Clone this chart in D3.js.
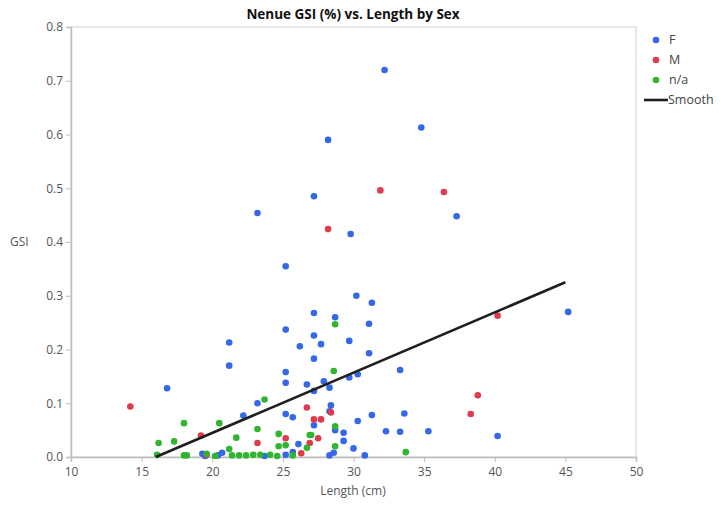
<!DOCTYPE html>
<html>
<head>
<meta charset="utf-8">
<script src="https://cdn.jsdelivr.net/npm/d3@7"></script>
<style>
  body { margin: 0; background: #fff; }
  svg text { font-family: "Open Sans", "Noto Sans", sans-serif; }
</style>
</head>
<body>
<svg id="chart" width="721" height="506"></svg>
<script>
// GSI values by sex, [length (cm), GSI]
var femaleData = [
  [32.2,0.72],[34.8,0.613],[28.2,0.59],[37.3,0.448],[27.2,0.485],[29.8,0.415],[23.2,0.454],
  [25.2,0.355],[30.2,0.30],[31.3,0.287],[27.2,0.268],[28.7,0.26],[31.1,0.248],[25.2,0.237],
  [27.2,0.226],[26.2,0.206],[27.7,0.21],[29.7,0.216],[31.1,0.193],[27.2,0.183],[33.3,0.162],
  [25.2,0.158],[25.2,0.138],[26.7,0.135],[27.9,0.141],[28.3,0.129],[29.7,0.148],[30.3,0.154],
  [27.2,0.123],[23.2,0.10],[22.2,0.077],[28.4,0.096],[28.3,0.085],[25.2,0.08],[25.7,0.074],
  [30.3,0.067],[31.3,0.078],[33.6,0.081],[27.2,0.059],[28.7,0.05],[29.3,0.045],[26.1,0.024],
  [29.3,0.03],[30.0,0.016],[32.3,0.048],[33.3,0.047],[35.3,0.048],[40.2,0.039],[45.2,0.27],
  [16.8,0.128],[21.2,0.213],[21.2,0.17],[25.7,0.009],[30.8,0.003],[28.3,0.003],[28.6,0.008],
  [23.7,0.002],[25.2,0.004],[19.5,0.002],[19.3,0.006],[20.7,0.008],[20.4,0.003]
];
var maleData = [
  [31.9,0.496],[36.4,0.493],[28.2,0.424],[40.2,0.263],[38.8,0.115],[38.3,0.08],[14.2,0.094],
  [19.2,0.04],[23.2,0.026],[26.7,0.092],[28.4,0.083],[27.2,0.07],[27.7,0.07],[25.2,0.035],
  [27.5,0.035],[26.9,0.026],[26.3,0.007],[19.6,0.004]
];
var naData = [
  [28.7,0.247],[28.6,0.16],[23.7,0.107],[18.0,0.063],[20.5,0.063],[16.2,0.026],[17.3,0.029],
  [21.7,0.036],[23.2,0.052],[21.2,0.015],[16.1,0.004],[18.0,0.003],[18.2,0.003],[28.7,0.057],
  [24.7,0.043],[26.9,0.041],[27.0,0.041],[24.7,0.02],[25.2,0.022],[26.7,0.017],[28.7,0.02],
  [33.7,0.009],[21.4,0.003],[21.9,0.003],[22.4,0.003],[22.9,0.004],[23.4,0.004],[24.1,0.004],
  [19.6,0.006],[20.2,0.002],[25.7,0.003],[24.6,0.002]
];
var smoothLine = [[16.0, 0.0], [45.0, 0.325]];

var xTicks = [10, 15, 20, 25, 30, 35, 40, 45, 50];
var yTicks = [0, 0.1, 0.2, 0.3, 0.4, 0.5, 0.6, 0.7, 0.8];
var seriesNames = ["F", "M", "n/a"];
var seriesColors = ["#3468e6", "#e03a4c", "#2fb52f"];

var svg = d3.select("#chart");
var plotLeft = 71, plotRight = 636, plotTop = 27, plotBottom = 457;

var x = d3.scaleLinear().domain([10, 50]).range([plotLeft, plotRight]);
var y = d3.scaleLinear().domain([0, 0.8]).range([plotBottom, plotTop]);

// frame
svg.append("rect")
    .attr("x", plotLeft).attr("y", plotTop)
    .attr("width", plotRight - plotLeft).attr("height", plotBottom - plotTop)
    .attr("fill", "none").attr("stroke", "#d0d0d0");

var xAxis = svg.append("g")
    .attr("transform", "translate(0," + plotBottom + ")")
    .call(d3.axisBottom(x).tickValues(xTicks).tickSize(5).tickFormat(d3.format("d")));
var yAxis = svg.append("g")
    .attr("transform", "translate(" + plotLeft + ",0)")
    .call(d3.axisLeft(y).tickValues(yTicks).tickSize(5).tickFormat(d3.format(".1f")));

[xAxis, yAxis].forEach(function(a) {
    a.select(".domain").attr("stroke", "#bdbdbd").attr("stroke-width", 1.5);
    a.selectAll(".tick line").attr("stroke", "#bdbdbd");
    a.selectAll(".tick text").attr("fill", "#555").style("font-size", "12px");
});
xAxis.selectAll(".tick text").attr("dy", "0.9em");

// points
var groups = [femaleData, maleData, naData];
groups.forEach(function(data, i) {
    svg.append("g").selectAll("circle")
        .data(data)
        .enter().append("circle")
        .attr("cx", function(d) { return x(d[0]); })
        .attr("cy", function(d) { return y(d[1]); })
        .attr("r", 3.3)
        .attr("fill", seriesColors[i]);
});

// smooth
svg.append("path")
    .datum(smoothLine)
    .attr("fill", "none")
    .attr("stroke", "#1e1e1e")
    .attr("stroke-width", 2.6)
    .attr("d", d3.line().x(function(d) { return x(d[0]); }).y(function(d) { return y(d[1]); }));

// titles
svg.append("text")
    .attr("x", 353).attr("y", 19)
    .attr("text-anchor", "middle")
    .attr("font-weight", "bold")
    .style("font-size", "13.5px")
    .attr("fill", "#111")
    .text("Nenue GSI (%) vs. Length by Sex");
svg.append("text")
    .attr("x", 353).attr("y", 495)
    .attr("text-anchor", "middle")
    .style("font-size", "12px")
    .attr("fill", "#555")
    .text("Length (cm)");
svg.append("text")
    .attr("x", 10).attr("y", y(0.4) + 4)
    .style("font-size", "12px")
    .attr("fill", "#555")
    .text("GSI");

// legend
var legend = svg.append("g");
seriesNames.forEach(function(name, i) {
    var ly = 40 + i * 20;
    legend.append("circle")
        .attr("cx", 656).attr("cy", ly).attr("r", 3.3)
        .attr("fill", seriesColors[i]);
    legend.append("text")
        .attr("x", 669).attr("y", ly + 4)
        .style("font-size", "12.5px")
        .attr("fill", "#444")
        .text(name);
});
legend.append("line")
    .attr("x1", 644).attr("x2", 668)
    .attr("y1", 100).attr("y2", 100)
    .attr("stroke", "#1e1e1e").attr("stroke-width", 2.6);
legend.append("text")
    .attr("x", 668).attr("y", 104)
    .style("font-size", "12.5px")
    .attr("fill", "#444")
    .text("Smooth");
</script>
</body>
</html>
